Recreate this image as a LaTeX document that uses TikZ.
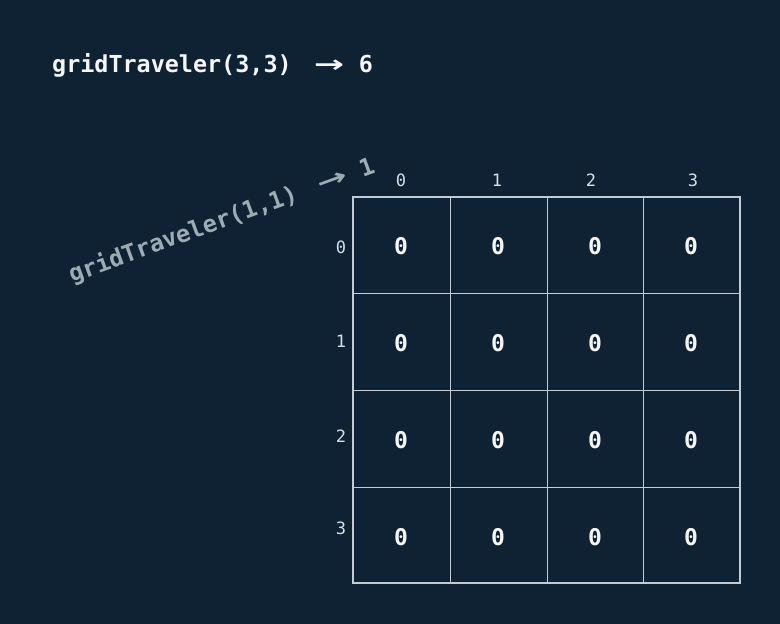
\documentclass[tikz,border=0pt]{standalone}
\usepackage{fontspec}
\usepackage{graphicx}
\setmonofont{DejaVu Sans Mono}
\newfontfamily\arrfont{DejaVu Sans}
\definecolor{bg}{HTML}{0F2233}
\definecolor{gridc}{HTML}{C3CCD4}
\definecolor{lab}{HTML}{D8DEE4}
\definecolor{rot}{HTML}{9DABB4}
\definecolor{ttl}{HTML}{F4F6F8}
\newcommand{\gtcall}[2]{gridTraveler(#1)\hspace{0.95em}{\arrfont\bfseries\scalebox{1.55}[1]{→}}\hspace{0.62em}#2}
\tikzset{
  ttlstyle/.style={text=ttl,font=\ttfamily\bfseries\fontsize{23.4}{28}\selectfont,inner sep=0pt},
  rotstyle/.style={text=rot,font=\ttfamily\bfseries\fontsize{23.6}{28}\selectfont,inner sep=0pt,rotate=20},
  axlab/.style={text=lab,font=\ttfamily\fontsize{17}{20}\selectfont,inner sep=0pt},
  cellval/.style={text=ttl,font=\ttfamily\bfseries\fontsize{23}{26}\selectfont,inner sep=0pt},
  innerline/.style={draw=gridc,line width=1pt},
  outerline/.style={draw=gridc,line width=2pt},
}
\begin{document}
\begin{tikzpicture}[x=1pt,y=-1pt]
\fill[bg] (0,0) rectangle (780,624);
\useasboundingbox (0,0) rectangle (780,624);
\node[ttlstyle,anchor=base west] (title) at (52,72) {\gtcall{3,3}{6}};
\node[rotstyle,anchor=base west] (sub) at (72,283) {\gtcall{1,1}{1}};
% grid lines
\coordinate (tl) at (353,197);
\coordinate (br) at (740,583);
\foreach \x in {450,547,643} \draw[innerline] (\x,197) -- (\x,583);
\foreach \y in {293,390,487} \draw[innerline] (353,\y) -- (740,\y);
\draw[outerline] (tl) rectangle (br);
% column labels
\node[axlab] (c0) at (401,180) {0};
\node[axlab] (c1) at (497,180) {1};
\node[axlab] (c2) at (591,180) {2};
\node[axlab] (c3) at (693,180) {3};
% row labels
\node[axlab] (r0) at (341,247) {0};
\node[axlab] (r1) at (341,341) {1};
\node[axlab] (r2) at (341,436) {2};
\node[axlab] (r3) at (341,528) {3};
% cells
\foreach \cx [count=\i from 0] in {401,498,595,691}
  \foreach \cy [count=\j from 0] in {246,343,440,537}
    \node[cellval] (v\i\j) at (\cx,\cy) {0};
\end{tikzpicture}
\end{document}
